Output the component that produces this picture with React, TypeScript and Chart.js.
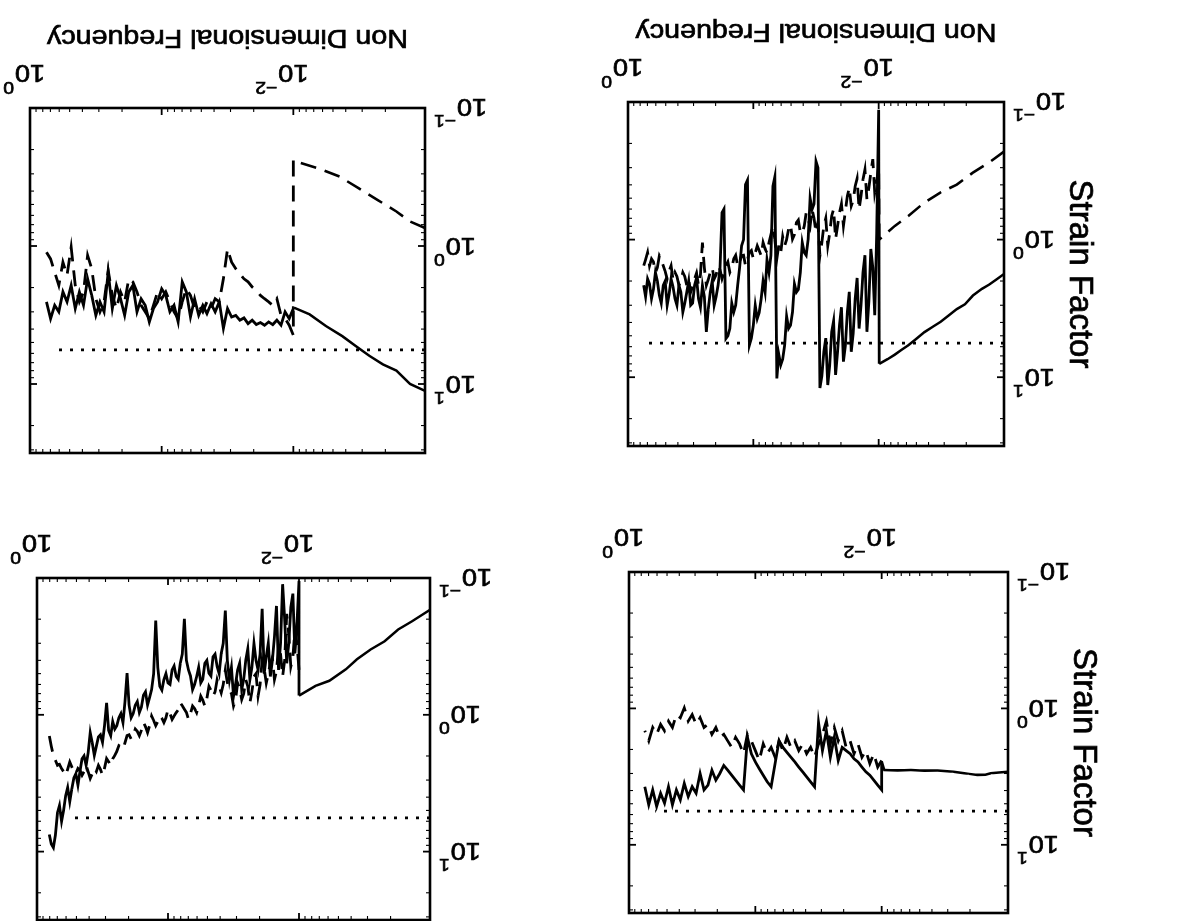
import React, { useEffect, useRef } from 'react';
import { Chart, registerables } from 'chart.js';

Chart.register(...registerables);

const FONT = '"Liberation Sans", Arial, Helvetica, sans-serif';

// ---------- axes ----------
const X_MIN = 0.001;
const X_MAX = 1;
const Y_MIN = 0.1;
const Y_MAX = 31.62;
const X_DECADES = [0.001, 0.01, 0.1, 1];
const Y_DECADES = [0.1, 1, 10];
const X_TICK_VALUES = [0.01, 1];
const X_TICK_EXPONENTS = ['\u22122', '0'];
const Y_TICK_VALUES = [0.1, 1, 10];
const Y_TICK_EXPONENTS = ['\u22121', '0', '1'];
const X_TITLE = 'Non Dimensional Frequency';
const Y_TITLE = 'Strain Factor';

// reference level (dotted line)
const DOTTED_LEVEL = 5.66;
const DOTTED_START = 0.001;
const DOTTED_END_A = 0.7;
const DOTTED_END_B = 0.68;
const DOTTED_END_C = 0.62;
const DOTTED_END_D = 0.52;

// frequency grid of the fluctuating part (coarse)
const NOISE_FREQ = [
  0.01, 0.01075, 0.01155, 0.01241, 0.01334, 0.01433, 0.0154, 0.01655, 0.01778, 0.01911,
  0.02054, 0.02207, 0.02371, 0.02548, 0.02738, 0.02943, 0.03162, 0.03398, 0.03652, 0.03924,
  0.04217, 0.04532, 0.0487, 0.05233, 0.05623, 0.06043, 0.06494, 0.06978, 0.07499, 0.08058,
  0.0866, 0.09306, 0.1, 0.1075, 0.1155, 0.1241, 0.1334, 0.1433, 0.154, 0.1655,
  0.1778, 0.1911, 0.2054, 0.2207, 0.2371, 0.2548, 0.2738, 0.2943, 0.3162, 0.3398,
  0.3652, 0.3924, 0.4217, 0.4532, 0.487, 0.5233, 0.5623, 0.6043, 0.6494, 0.6978,
  0.7499, 0.8058,
];
// frequency grid of the fluctuating part (fine)
const NOISE_FREQ_FINE = [
  0.01, 0.01037, 0.01075, 0.01114, 0.01155, 0.01197, 0.01241, 0.01287, 0.01334, 0.01383,
  0.01433, 0.01486, 0.0154, 0.01597, 0.01655, 0.01716, 0.01778, 0.01844, 0.01911, 0.01982,
  0.02054, 0.0213, 0.02207, 0.02289, 0.02371, 0.0246, 0.02548, 0.02643, 0.02738, 0.0284,
  0.02943, 0.03052, 0.03162, 0.0328, 0.03398, 0.03525, 0.03652, 0.03788, 0.03924, 0.04071,
  0.04217, 0.04375, 0.04532, 0.04701, 0.0487, 0.05052, 0.05233, 0.05429, 0.05623, 0.05834,
  0.06043, 0.06269, 0.06494, 0.06737, 0.06978, 0.0724, 0.07499, 0.0778, 0.08058, 0.0836,
  0.0866, 0.08984, 0.09306, 0.09655, 0.1, 0.1037, 0.1075, 0.1114, 0.1155, 0.1197,
  0.1241, 0.1287, 0.1334, 0.1383, 0.1433, 0.1486, 0.154, 0.1597, 0.1655, 0.1716,
  0.1778, 0.1844, 0.1911, 0.1982, 0.2054, 0.213, 0.2207, 0.2289, 0.2371, 0.246,
  0.2548, 0.2643, 0.2738, 0.284, 0.2943, 0.3052, 0.3162, 0.328, 0.3398, 0.3525,
  0.3652, 0.3788, 0.3924, 0.4071, 0.4217, 0.4375, 0.4532, 0.4701, 0.487, 0.5052,
  0.5233, 0.5429, 0.5623, 0.5834, 0.6043, 0.6269, 0.6494, 0.6737, 0.6978, 0.724,
  0.7499, 0.778, 0.8058,
];

// ---------- panel A (upper right in the picture) ----------
const A_SOLID_SMOOTH_F = [0.001, 0.00115, 0.00131, 0.0015, 0.00177, 0.00205, 0.00238, 0.00275, 0.0032, 0.0037, 0.00431, 0.005, 0.0058, 0.0066, 0.00743, 0.0085, 0.0099];
const A_SOLID_SMOOTH = [1.78, 1.95, 2.12, 2.28, 2.55, 2.95, 3.2, 3.55, 3.95, 4.3, 4.7, 5.25, 5.85, 6.35, 6.85, 7.4, 8.0];
const A_SOLID_NOISE = [
  0.114, 0.9, 3.55, 1.6, 1.17, 2.8, 4.68, 1.3, 1.73, 3.0,
  4.43, 1.9, 2.69, 4.8, 6.53, 2.4, 3.36, 5.9, 7.71, 3.1,
  4.19, 6.6, 9.62, 3.9, 4.68, 8.2, 11.4, 5.2, 6.53, 9.8,
  12.0, 0.3, 0.27, 0.55, 0.602, 0.5, 0.992, 1.3, 1.24, 1.05,
  1.73, 2.3, 2.41, 2.1, 3.36, 4.2, 4.43, 3.6, 5.84, 7.4,
  8.15, 6.8, 10.2, 0.35, 0.409, 1.3, 1.73, 1.4, 2.41, 2.0,
  2.69, 3.4, 3.75, 3.0, 4.19, 5.2, 5.84, 0.37, 0.398, 1.0,
  1.11, 1.6, 2.15, 3.0, 3.36, 2.9, 4.43, 5.0, 5.23, 0.6,
  0.637, 1.6, 2.15, 2.6, 3.0, 2.0, 2.41, 3.2, 4.68, 2.6,
  2.15, 3.1, 2.69, 1.9, 2.15, 2.9, 3.0, 2.0, 2.41, 2.9,
  3.36, 2.4, 2.15, 3.0, 2.69, 2.2, 1.93, 2.5, 3.0, 2.0,
  2.15, 2.9, 2.54, 2.0, 1.73, 2.3, 2.69, 2.1, 1.93, 2.6,
  2.15,
];
const A_DASH_SMOOTH_F = [0.001, 0.00131, 0.00177, 0.00238, 0.0032, 0.00431, 0.0058, 0.00743, 0.0099];
const A_DASH_SMOOTH = [0.229, 0.275, 0.326, 0.398, 0.454, 0.537, 0.673, 0.795, 1.0];
const A_DASH_NOISE = [
  0.293, 0.38, 0.457, 0.26, 0.327, 0.42, 0.51, 0.31, 0.366, 0.48,
  0.602, 0.36, 0.409, 0.52, 0.57, 0.42, 0.483, 0.62, 0.795, 0.55,
  0.637, 0.8, 0.992, 0.6, 0.673, 0.9, 1.11, 0.7, 0.795, 1.05,
  1.31, 0.75, 0.888, 0.7, 0.602, 0.8, 0.711, 0.64, 0.795, 0.9,
  0.888, 0.72, 0.752, 0.92, 0.992, 0.78, 0.84, 1.0, 1.11, 0.95,
  1.24, 1.1, 1.38, 1.0, 0.795, 0.92, 1.05, 1.25, 1.17, 1.05,
  1.31, 1.2, 1.11, 1.25, 1.38, 1.2, 1.24, 1.4, 1.55, 1.3,
  1.31, 1.45, 1.55, 1.3, 1.38, 1.6, 1.73, 1.45, 1.55, 1.75,
  1.93, 1.65, 1.55, 1.8, 1.93, 1.6, 1.73, 1.95, 2.15, 1.6,
  1.05, 1.8, 2.15, 1.75, 1.93, 2.2, 2.41, 1.95, 2.15, 1.85,
  1.73, 2.0, 2.15, 1.85, 1.73, 1.95, 1.55, 1.7, 1.93, 1.7,
  1.55, 1.4, 1.31, 1.6, 1.73, 1.45, 1.38, 1.55, 1.24, 1.4,
  1.55,
];

// ---------- panel B (upper left in the picture) ----------
const B_SOLID_SMOOTH_F = [0.001, 0.0013, 0.00165, 0.00209, 0.00265, 0.00336, 0.00425, 0.00566, 0.00752, 0.0099];
const B_SOLID_SMOOTH = [11.2, 10.0, 8.0, 7.2, 6.25, 5.3, 4.5, 3.8, 3.13, 2.8];
const B_SOLID_NOISE = [
  2.84, 3.36, 3.0, 3.75, 3.45, 3.71, 3.55, 3.75, 3.59, 3.71, 3.45, 3.65, 3.32, 3.45, 3.18, 3.27,
  2.84, 3.96, 2.54, 3.0, 2.62, 3.09, 2.69, 3.18, 2.41, 3.27, 2.15, 1.82, 3.55, 2.69, 3.0, 2.28,
  2.04, 2.54, 2.84, 3.55, 2.69, 2.41, 3.0, 1.93, 2.15, 3.18, 2.41, 1.93, 2.84, 1.55, 3.0, 2.54,
  3.18, 2.28, 1.73, 2.69, 2.15, 2.84, 1.93, 2.54, 2.15, 3.0, 2.69, 3.36, 2.54,
];
const B_DASH_SMOOTH_F = [0.001, 0.0013, 0.00165, 0.0023, 0.0032, 0.00446, 0.00652, 0.00953, 0.01];
const B_DASH_SMOOTH = [0.741, 0.664, 0.562, 0.463, 0.381, 0.314, 0.273, 0.245, 0.24];
const B_DASH_NOISE = [
  4.43, 3.75, 3.36, 3.18, 2.41, 2.69, 2.54, 2.41, 2.28, 2.1, 1.98, 1.82, 1.73, 1.59, 1.46, 1.31,
  1.05, 1.73, 2.54, 2.41, 2.84, 2.54, 3.0, 2.69, 2.84, 2.28, 2.04, 2.54, 3.36, 3.0, 2.54, 2.15,
  2.41, 2.15, 2.69, 3.36, 3.0, 2.69, 2.15, 1.82, 1.73, 2.54, 2.15, 2.84, 2.28, 1.5, 2.54, 3.0,
  2.41, 1.46, 1.17, 2.15, 2.54, 1.93, 1.02, 1.63, 1.31, 1.93, 1.55, 1.24, 1.11,
];

// ---------- panel C (lower right in the picture) ----------
const C_SOLID_SMOOTH_F = [0.001, 0.00118, 0.00137, 0.00151, 0.00175, 0.00203, 0.00222, 0.0027, 0.00361, 0.0046, 0.00587, 0.00748, 0.00953, 0.01];
const C_SOLID_SMOOTH = [2.91, 2.95, 2.99, 3.06, 3.08, 3.02, 2.99, 2.91, 2.85, 2.86, 2.83, 2.85, 2.83, 2.45];
const C_SOLID_NOISE = [
  3.96, 3.65, 3.36, 3.09, 2.92, 2.69, 2.47, 2.34, 2.15, 2.04, 1.93, 2.41, 1.63, 2.28, 1.46, 2.04,
  1.27, 3.75, 3.45, 3.18, 2.92, 2.69, 2.47, 2.28, 2.1, 1.93, 1.73, 2.54, 3.75, 3.45, 3.09, 2.77,
  2.47, 2.15, 1.63, 3.96, 3.65, 3.36, 3.09, 2.84, 2.62, 3.0, 3.36, 2.84, 3.65, 3.96, 3.0, 4.19,
  3.75, 4.43, 3.55, 4.68, 3.96, 5.09, 3.75, 4.95, 4.19, 5.23, 3.96, 5.09, 3.75,
];
const C_DASH_NOISE = [
  2.41, 2.69, 2.15, 2.54, 2.04, 2.28, 1.82, 2.15, 1.73, 1.93, 1.46, 1.73, 1.38, 1.82, 1.24, 1.55,
  1.82, 2.28, 1.93, 2.15, 1.82, 2.04, 1.73, 1.93, 1.63, 2.04, 1.73, 2.28, 1.93, 2.15, 1.82, 2.41,
  2.04, 1.73, 1.55, 2.15, 1.82, 1.63, 1.93, 1.73, 1.55, 1.63, 1.38, 1.55, 1.31, 1.38, 1.17, 1.31,
  1.11, 1.24, 0.992, 1.17, 1.11, 1.38, 1.24, 1.46, 1.31, 1.55, 1.38, 1.73, 1.46,
];

// ---------- panel D (lower left in the picture) ----------
const D_SOLID_SMOOTH_F = [0.001, 0.00137, 0.00175, 0.00222, 0.00284, 0.00361, 0.00439, 0.00587, 0.00748, 0.01];
const D_SOLID_SMOOTH = [0.171, 0.207, 0.238, 0.29, 0.333, 0.393, 0.465, 0.564, 0.614, 0.724];
const D_SOLID_NOISE = [
  0.105, 0.22, 0.356, 0.13, 0.164, 0.3, 0.42, 0.2, 0.111, 0.3,
  0.47, 0.16, 0.27, 0.4, 0.525, 0.3, 0.376, 0.5, 0.168, 0.36,
  0.47, 0.4, 0.301, 0.45, 0.554, 0.33, 0.398, 0.55, 0.654, 0.42,
  0.47, 0.6, 0.731, 0.45, 0.554, 0.4, 0.173, 0.3, 0.356, 0.5,
  0.444, 0.36, 0.376, 0.52, 0.496, 0.4, 0.42, 0.55, 0.585, 0.45,
  0.525, 0.6, 0.654, 0.52, 0.47, 0.4, 0.199, 0.36, 0.42, 0.55,
  0.525, 0.44, 0.47, 0.6, 0.585, 0.5, 0.554, 0.66, 0.619, 0.45,
  0.205, 0.5, 0.654, 0.75, 0.85, 0.68, 0.72, 0.88, 0.964, 0.8,
  0.85, 0.98, 1.05, 0.85, 0.496, 0.8, 1.14, 0.98, 1.05, 1.2,
  1.27, 1.12, 1.42, 1.3, 0.817, 1.2, 1.59, 1.4, 1.45, 1.7,
  1.98, 1.6, 1.35, 1.9, 2.34, 2.0, 2.1, 2.6, 3.27, 2.7,
  2.9, 3.5, 4.31, 3.4, 3.9, 5.0, 6.01, 4.6, 5.2, 7.6,
  9.36, 8.8, 7.5,
];
const D_DASH_NOISE = [
  0.47, 0.3, 0.24, 0.38, 0.444, 0.26, 0.183, 0.4, 0.525, 0.36,
  0.318, 0.48, 0.554, 0.38, 0.42, 0.5, 0.586, 0.46, 0.398, 0.6,
  0.731, 0.5, 0.525, 0.68, 0.817, 0.62, 0.554, 0.7, 0.773, 0.64,
  0.586, 0.78, 0.863, 0.7, 0.654, 0.58, 0.47, 0.6, 0.691, 0.62,
  0.554, 0.68, 0.731, 0.66, 0.619, 0.76, 0.863, 0.78, 0.731, 0.86,
  0.964, 0.9, 0.863, 0.98, 1.08, 0.96, 0.912, 0.86, 0.817, 0.92,
  0.964, 1.02, 1.08, 0.98, 0.912, 1.05, 1.14, 1.06, 1.02, 1.12,
  1.2, 1.1, 1.02, 1.2, 1.35, 1.22, 1.14, 1.3, 1.42, 1.32,
  1.27, 1.42, 1.5, 1.4, 1.42, 1.6, 1.78, 1.72, 1.68, 1.85,
  1.98, 2.1, 2.34, 2.2, 2.09, 2.45, 2.77, 2.5, 2.34, 2.6,
  2.47, 2.7, 2.92, 2.6, 2.34, 2.6, 2.77, 2.55, 2.47, 2.7,
  2.62, 2.4, 2.21, 2.5, 2.77, 2.6, 2.47, 2.3, 2.34, 2.15,
  1.98, 1.7, 1.42,
];

// ---------- helpers ----------
type Pt = { x: number; y: number };
const pts = (f: number[], v: number[]): Pt[] => v.map((y, i) => ({ x: f[i], y }));

const SX = 1.13; // horizontal stretch of the scanned lettering
const INK = 0.7; // extra stroke to mimic the heavy scanned lettering

function textW(ctx: CanvasRenderingContext2D, s: string, size: number, sx: number) {
  ctx.save();
  ctx.font = `${size}px ${FONT}`;
  const w = ctx.measureText(s).width * sx;
  ctx.restore();
  return w;
}
function drawText(ctx: CanvasRenderingContext2D, s: string, x: number, y: number, size: number, sx: number) {
  ctx.save();
  ctx.font = `${size}px ${FONT}`;
  ctx.textAlign = 'left';
  ctx.textBaseline = 'alphabetic';
  ctx.translate(x, y);
  ctx.scale(sx, 1);
  ctx.fillText(s, 0, 0);
  ctx.lineWidth = INK;
  ctx.strokeText(s, 0, 0);
  ctx.restore();
}

type Spec = {
  left: number; top: number; w: number; h: number;
  pad: { left: number; right: number; top: number; bottom: number };
  xTitle: boolean; yTitle: boolean;
  solid: Pt[]; dashed: Pt[]; dottedEnd: number;
};

function makeAxesPlugin(spec: Spec) {
  return {
    id: 'matlabAxes',
    afterDraw(chart: any) {
      const ctx: CanvasRenderingContext2D = chart.ctx;
      const a = chart.chartArea;
      const xs = chart.scales.x;
      const ys = chart.scales.y;
      ctx.save();
      ctx.strokeStyle = '#000';
      ctx.fillStyle = '#000';
      const line = (x1: number, y1: number, x2: number, y2: number) => {
        ctx.beginPath(); ctx.moveTo(x1, y1); ctx.lineTo(x2, y2); ctx.stroke();
      };
      for (const d of X_DECADES) {
        for (let m = 1; m <= 9; m++) {
          const v = d * m;
          if (v > X_MAX * 1.0001) continue;
          const px = xs.getPixelForValue(v);
          const len = m === 1 ? 7 : 4;
          ctx.lineWidth = m === 1 ? 1.8 : 1.1;
          line(px, a.bottom, px, a.bottom - len);
          line(px, a.top, px, a.top + len);
        }
      }
      for (const d of Y_DECADES) {
        for (let m = 1; m <= 9; m++) {
          const v = d * m;
          if (v > Y_MAX * 1.0001) continue;
          const py = ys.getPixelForValue(v);
          const len = m === 1 ? 7 : 4;
          ctx.lineWidth = m === 1 ? 1.8 : 1.1;
          line(a.left, py, a.left + len, py);
          line(a.right, py, a.right - len, py);
        }
      }
      ctx.lineWidth = 2.6;
      ctx.strokeRect(a.left, a.top, a.right - a.left, a.bottom - a.top);

      const F = 24, FE = 17;
      X_TICK_VALUES.forEach((v, i) => {
        const px = xs.getPixelForValue(v);
        const w10 = textW(ctx, '10', F, SX);
        const x0 = px - w10 / 2;
        const base = a.bottom + 43;
        drawText(ctx, '10', x0, base, F, SX);
        drawText(ctx, X_TICK_EXPONENTS[i], x0 + w10 + 1, base - 17, FE, SX);
      });
      Y_TICK_VALUES.forEach((v, i) => {
        const py = ys.getPixelForValue(v);
        const w10 = textW(ctx, '10', F, SX);
        const we = textW(ctx, Y_TICK_EXPONENTS[i], FE, SX);
        const x0 = a.left - 9 - we - 1 - w10;
        const base = py + 8.5;
        drawText(ctx, '10', x0, base, F, SX);
        drawText(ctx, Y_TICK_EXPONENTS[i], x0 + w10 + 1, base - 16, FE, SX);
      });
      if (spec.xTitle) {
        const w = textW(ctx, X_TITLE, 26, 1.1);
        drawText(ctx, X_TITLE, (a.left + a.right) / 2 - w / 2, a.bottom + 78, 26, 1.1);
      }
      if (spec.yTitle) {
        ctx.save();
        ctx.translate(a.left - 66, (a.top + a.bottom) / 2);
        ctx.rotate(-Math.PI / 2);
        ctx.font = `33px ${FONT}`;
        ctx.textAlign = 'center';
        ctx.textBaseline = 'alphabetic';
        ctx.fillText(Y_TITLE, 0, 0);
        ctx.lineWidth = INK;
        ctx.strokeText(Y_TITLE, 0, 0);
        ctx.restore();
      }
      ctx.restore();
    },
  };
}

// noisy part (f >= 0.01) is drawn heavier, as in the scanned original
const segWidth = (smooth: number, noisy: number) => (c: any) =>
  c.p0.parsed.x >= 0.0099 && c.p1.parsed.x >= 0.0099 ? noisy : smooth;

function Panel({ spec }: { spec: Spec }) {
  const ref = useRef<HTMLCanvasElement>(null);
  useEffect(() => {
    const canvas = ref.current!;
    const chart = new Chart(canvas, {
      type: 'line',
      data: {
        datasets: [
          {
            data: [{ x: DOTTED_START, y: DOTTED_LEVEL }, { x: spec.dottedEnd, y: DOTTED_LEVEL }],
            borderColor: '#000', borderWidth: 2.8, borderDash: [3, 8], pointRadius: 0, fill: false,
          },
          {
            data: spec.dashed,
            borderColor: '#000', borderWidth: 2.6, borderDash: [16, 9], pointRadius: 0, fill: false,
            segment: { borderWidth: segWidth(2.6, 2.8) },
          },
          {
            data: spec.solid,
            borderColor: '#000', borderWidth: 2.5, pointRadius: 0, fill: false,
            segment: { borderWidth: segWidth(2.5, 2.8) },
          },
        ],
      },
      options: {
        animation: false,
        responsive: false,
        maintainAspectRatio: false,
        events: [],
        layout: { padding: spec.pad },
        plugins: { legend: { display: false }, tooltip: { enabled: false } },
        elements: { line: { tension: 0, borderCapStyle: 'butt', borderJoinStyle: 'miter' } },
        scales: {
          x: { type: 'logarithmic', min: X_MIN, max: X_MAX, display: false },
          y: { type: 'logarithmic', min: Y_MIN, max: Y_MAX, display: false },
        },
      } as any,
      plugins: [makeAxesPlugin(spec)],
    });
    return () => chart.destroy();
  }, [spec]);
  return (
    <canvas
      ref={ref}
      width={spec.w}
      height={spec.h}
      style={{
        position: 'absolute',
        left: spec.left,
        top: spec.top,
        width: spec.w,
        height: spec.h,
        transform: 'rotate(180deg)',
      }}
    />
  );
}

const SPECS: Spec[] = [
  {
    left: 580, top: 0, w: 606, h: 460,
    pad: { left: 182, right: 48, top: 14, bottom: 102 },
    xTitle: true, yTitle: true,
    solid: [...pts(A_SOLID_SMOOTH_F, A_SOLID_SMOOTH), ...pts(NOISE_FREQ_FINE, A_SOLID_NOISE)],
    dashed: [...pts(A_DASH_SMOOTH_F, A_DASH_SMOOTH), ...pts(NOISE_FREQ_FINE, A_DASH_NOISE)],
    dottedEnd: DOTTED_END_A,
  },
  {
    left: 0, top: 0, w: 580, h: 460,
    pad: { left: 155, right: 30, top: 7, bottom: 108 },
    xTitle: true, yTitle: false,
    solid: [...pts(B_SOLID_SMOOTH_F, B_SOLID_SMOOTH), ...pts(NOISE_FREQ, B_SOLID_NOISE)],
    dashed: [...pts(B_DASH_SMOOTH_F, B_DASH_SMOOTH), ...pts(NOISE_FREQ, B_DASH_NOISE)],
    dottedEnd: DOTTED_END_B,
  },
  {
    left: 580, top: 460, w: 606, h: 461,
    pad: { left: 178, right: 49, top: 8, bottom: 112 },
    xTitle: false, yTitle: true,
    solid: [...pts(C_SOLID_SMOOTH_F, C_SOLID_SMOOTH), ...pts(NOISE_FREQ, C_SOLID_NOISE)],
    dashed: pts(NOISE_FREQ, C_DASH_NOISE),
    dottedEnd: DOTTED_END_C,
  },
  {
    left: 0, top: 460, w: 580, h: 470,
    pad: { left: 150, right: 37, top: 10, bottom: 118 },
    xTitle: false, yTitle: false,
    solid: [...pts(D_SOLID_SMOOTH_F, D_SOLID_SMOOTH), ...pts(NOISE_FREQ_FINE, D_SOLID_NOISE)],
    dashed: pts(NOISE_FREQ_FINE, D_DASH_NOISE),
    dottedEnd: DOTTED_END_D,
  },
];

export default function App() {
  return (
    <div
      style={{
        position: 'absolute',
        left: 0,
        top: 0,
        width: 1186,
        height: 921,
        overflow: 'hidden',
        background: '#fff',
      }}
    >
      {SPECS.map((s, i) => (
        <Panel key={i} spec={s} />
      ))}
    </div>
  );
}
